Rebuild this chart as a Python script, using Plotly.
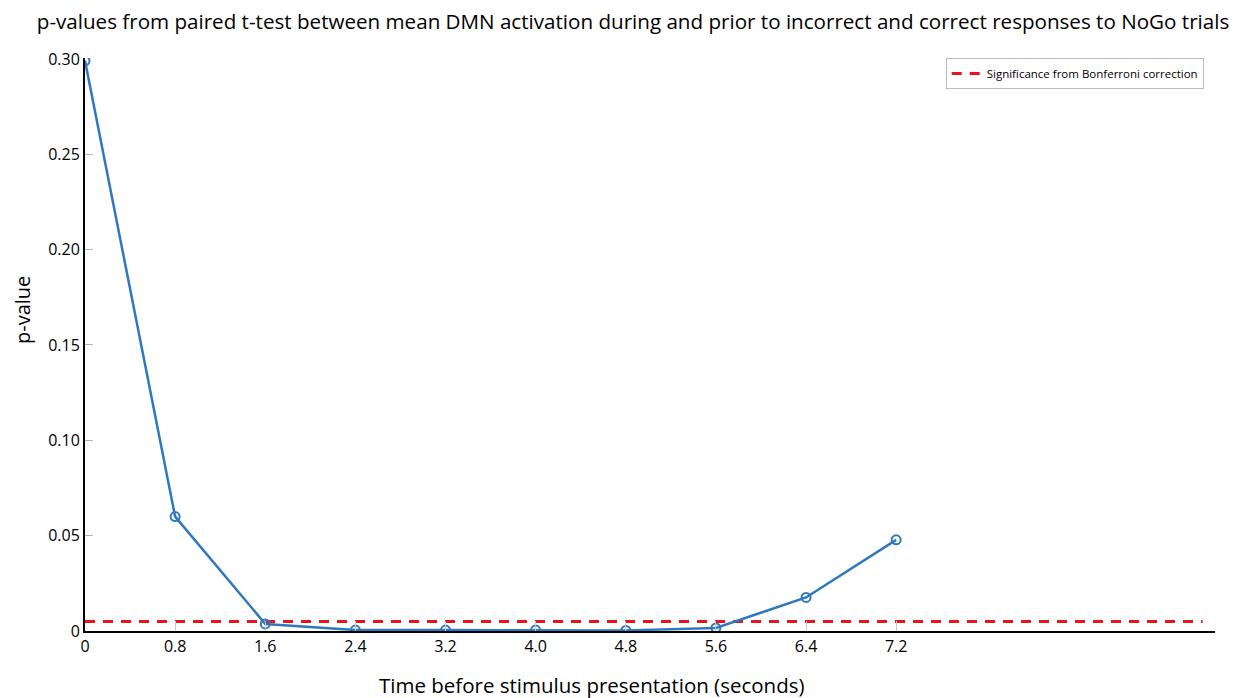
import plotly.graph_objects as go

# Time before stimulus presentation (seconds) and paired t-test p-values
time_s = [0, 0.8, 1.6, 2.4, 3.2, 4.0, 4.8, 5.6, 6.4, 7.2]
p_values = [0.299, 0.060, 0.0037, 0.0005, 0.0005, 0.0005, 0.0003, 0.0016, 0.0176, 0.0478]

# Bonferroni-corrected significance threshold
bonferroni_level = 0.005
bonferroni_x = [0, 9.92]

x_tick_vals = [0, 0.8, 1.6, 2.4, 3.2, 4.0, 4.8, 5.6, 6.4, 7.2]
x_tick_text = ["0", "0.8", "1.6", "2.4", "3.2", "4.0", "4.8", "5.6", "6.4", "7.2"]
y_tick_vals = [0, 0.05, 0.10, 0.15, 0.20, 0.25, 0.30]
y_tick_text = ["0", "0.05", "0.10", "0.15", "0.20", "0.25", "0.30"]

FONT = "Open Sans"
PLOT_W = 1130
PLOT_H = 573

fig = go.Figure()

fig.add_trace(go.Scatter(
    x=bonferroni_x,
    y=[bonferroni_level] * len(bonferroni_x),
    mode="lines",
    line=dict(color="#E8141C", width=3, dash="10px,8px"),
    name="Significance from Bonferroni correction",
    showlegend=True,
))

fig.add_trace(go.Scatter(
    x=time_s,
    y=p_values,
    mode="lines+markers",
    line=dict(color="#2F78BE", width=2.5),
    marker=dict(symbol="circle-open", size=9, color="#2F78BE", line=dict(width=2)),
    name="p-value",
    showlegend=False,
))

# Axis titles placed as annotations
fig.add_annotation(
    text="p-value",
    xref="paper", yref="paper",
    x=-63 / PLOT_W, y=(631 - 310) / PLOT_H,
    xanchor="center", yanchor="middle",
    textangle=-90,
    showarrow=False,
    font=dict(family=FONT, size=20, color="black"),
)
fig.add_annotation(
    text="Time before stimulus presentation (seconds)",
    xref="paper", yref="paper",
    x=(592 - 85) / PLOT_W, y=(631 - 685) / PLOT_H,
    xanchor="center", yanchor="middle",
    showarrow=False,
    font=dict(family=FONT, size=20.5, color="black"),
)

fig.update_layout(
    width=1244,
    height=698,
    margin=dict(l=85, r=29, t=58, b=67, autoexpand=False),
    paper_bgcolor="white",
    plot_bgcolor="white",
    font=dict(family=FONT, color="black"),
    title=dict(
        text="p-values from paired t-test between mean DMN activation during and prior to incorrect and correct responses to NoGo trials",
        x=633 / 1244, xanchor="center", xref="container",
        y=1 - 22 / 698, yanchor="middle",
        font=dict(family=FONT, size=20.6, color="black"),
    ),
    xaxis=dict(
        range=[0, 10.03],
        tickvals=x_tick_vals,
        ticktext=x_tick_text,
        ticks="inside",
        ticklen=10,
        tickcolor="#C8C8C8",
        tickfont=dict(size=16, color="black"),
        showgrid=False,
        zeroline=False,
        showline=True,
        linecolor="black",
        linewidth=1.5,
        automargin=False,
    ),
    yaxis=dict(
        range=[0, 0.3005],
        tickvals=y_tick_vals,
        ticktext=y_tick_text,
        ticks="inside",
        ticklen=8,
        tickcolor="#B4B4B4",
        tickfont=dict(size=16, color="black"),
        showgrid=False,
        zeroline=False,
        showline=True,
        linecolor="black",
        linewidth=2,
        automargin=False,
    ),
    legend=dict(
        x=0.99, xanchor="right",
        y=1.0, yanchor="top",
        bgcolor="white",
        bordercolor="#BBBBBB",
        borderwidth=1,
        font=dict(family=FONT, size=11.5, color="black"),
        itemwidth=30,
        tracegroupgap=0,
    ),
)

fig.write_html("out.html")
